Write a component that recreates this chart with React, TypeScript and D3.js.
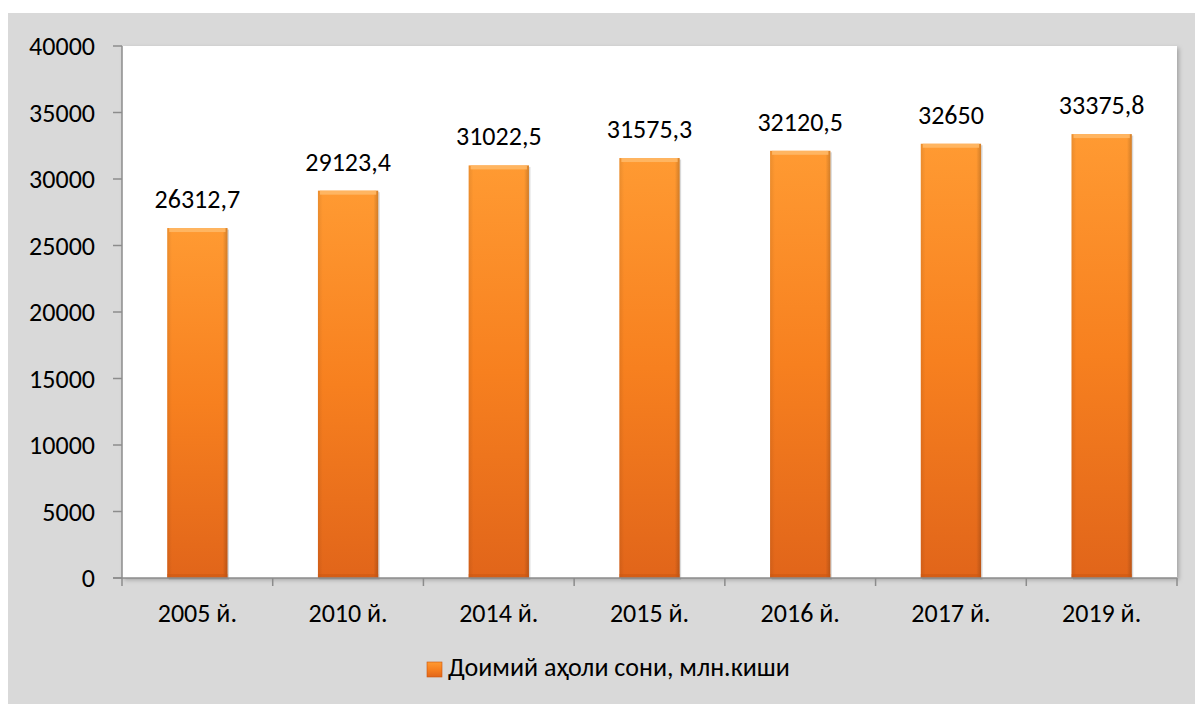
import * as d3 from "d3"

const years = ["2005 й.", "2010 й.", "2014 й.", "2015 й.", "2016 й.", "2017 й.", "2019 й."]
const population = [26312.7, 29123.4, 31022.5, 31575.3, 32120.5, 32650, 33375.8]
const valueLabels = ["26312,7", "29123,4", "31022,5", "31575,3", "32120,5", "32650", "33375,8"]
const yTicks = [0, 5000, 10000, 15000, 20000, 25000, 30000, 35000, 40000]
const seriesName = "Доимий аҳоли сони, млн.киши"

export default function App() {
	const width = 1195
	const height = 704
	const plot = { left: 122, right: 1177, top: 46, bottom: 578 }
	const font = "Carlito, 'Open Sans', sans-serif"

	const x = d3.scaleBand()
		.domain(years)
		.range([plot.left, plot.right])
		.paddingInner(0.6)
		.paddingOuter(0.3)

	const y = d3.scaleLinear()
		.domain([0, 40000])
		.range([plot.bottom, plot.top])

	const bw = x.bandwidth()
	const step = x.step()

	return (
		<svg width={width} height={height} style={{ position: "absolute", left: 0, top: 0 }}>
			<defs>
				<linearGradient id="barGrad" x1="0" y1="0" x2="0" y2="1">
					<stop offset="0%" stopColor="#ff9a32" />
					<stop offset="50%" stopColor="#f7801f" />
					<stop offset="100%" stopColor="#e1651a" />
				</linearGradient>
				<linearGradient id="sideGrad" x1="0" y1="0" x2="1" y2="0">
					<stop offset="0%" stopColor="#000" stopOpacity="0.08" />
					<stop offset="8%" stopColor="#000" stopOpacity="0" />
					<stop offset="92%" stopColor="#000" stopOpacity="0" />
					<stop offset="100%" stopColor="#000" stopOpacity="0.18" />
				</linearGradient>
				<filter id="plotShadow" x="-5%" y="-5%" width="110%" height="110%">
					<feDropShadow dx="2" dy="2" stdDeviation="2" floodColor="#000" floodOpacity="0.25" />
				</filter>
			</defs>
			{/* chart frame */}
			<rect x={8} y={13} width={width - 8} height={height - 13} fill="#d9d9d9" />
			<rect x={plot.left} y={plot.top} width={plot.right - plot.left} height={plot.bottom - plot.top} fill="#ffffff" filter="url(#plotShadow)" />

			{/* y axis */}
			<g fontFamily={font} fontSize={26} fill="#000">
				{yTicks.map(t => (
					<g key={t}>
						<line x1={plot.left - 9} x2={plot.left} y1={y(t)} y2={y(t)} stroke="#8c8c8c" strokeWidth={1.5} />
						<text x={95} y={y(t)} textAnchor="end" dominantBaseline="central">{t}</text>
					</g>
				))}
			</g>
			<line x1={plot.left} x2={plot.left} y1={plot.top} y2={plot.bottom} stroke="#8c8c8c" strokeWidth={1.5} />

			{/* bars */}
			{population.map((v, i) => {
				const bx = x(years[i])
				const by = y(v)
				const bh = y(0) - by
				return (
					<g key={years[i]}>
						<rect x={bx + 1.5} y={by + 1.5} width={bw} height={bh} fill="#000" opacity={0.15} />
						<rect x={bx} y={by} width={bw} height={bh} fill="url(#barGrad)" />
						<rect x={bx} y={by} width={bw} height={bh} fill="url(#sideGrad)" />
						<rect x={bx + 2} y={by} width={bw - 4} height={4} fill="#ffb866" opacity={0.9} />
						<rect x={bx} y={by + bh - 4} width={bw} height={4} fill="#c9560f" opacity={0.5} />
						<text x={bx + bw / 2} y={by - 20} textAnchor="middle" fontFamily={font} fontSize={26} fill="#000">{valueLabels[i]}</text>
					</g>
				)
			})}

			{/* x axis */}
			<line x1={plot.left - 9} x2={plot.right} y1={plot.bottom} y2={plot.bottom} stroke="#8c8c8c" strokeWidth={1.5} />
			{d3.range(years.length + 1).map(i => (
				<line key={i} x1={plot.left + i * step} x2={plot.left + i * step} y1={plot.bottom} y2={plot.bottom + 8} stroke="#8c8c8c" strokeWidth={1.5} />
			))}
			<g fontFamily={font} fontSize={26} fill="#000">
				{years.map(yr => (
					<text key={yr} x={x(yr) + bw / 2} y={622} textAnchor="middle">{yr}</text>
				))}
			</g>

			{/* legend */}
			<rect x={427} y={662} width={15} height={15} fill="url(#barGrad)" stroke="#c9560f" strokeWidth={0.6} />
			<text x={448} y={676} fontFamily={font} fontSize={26} fill="#000">{seriesName}</text>
		</svg>
	)
}
